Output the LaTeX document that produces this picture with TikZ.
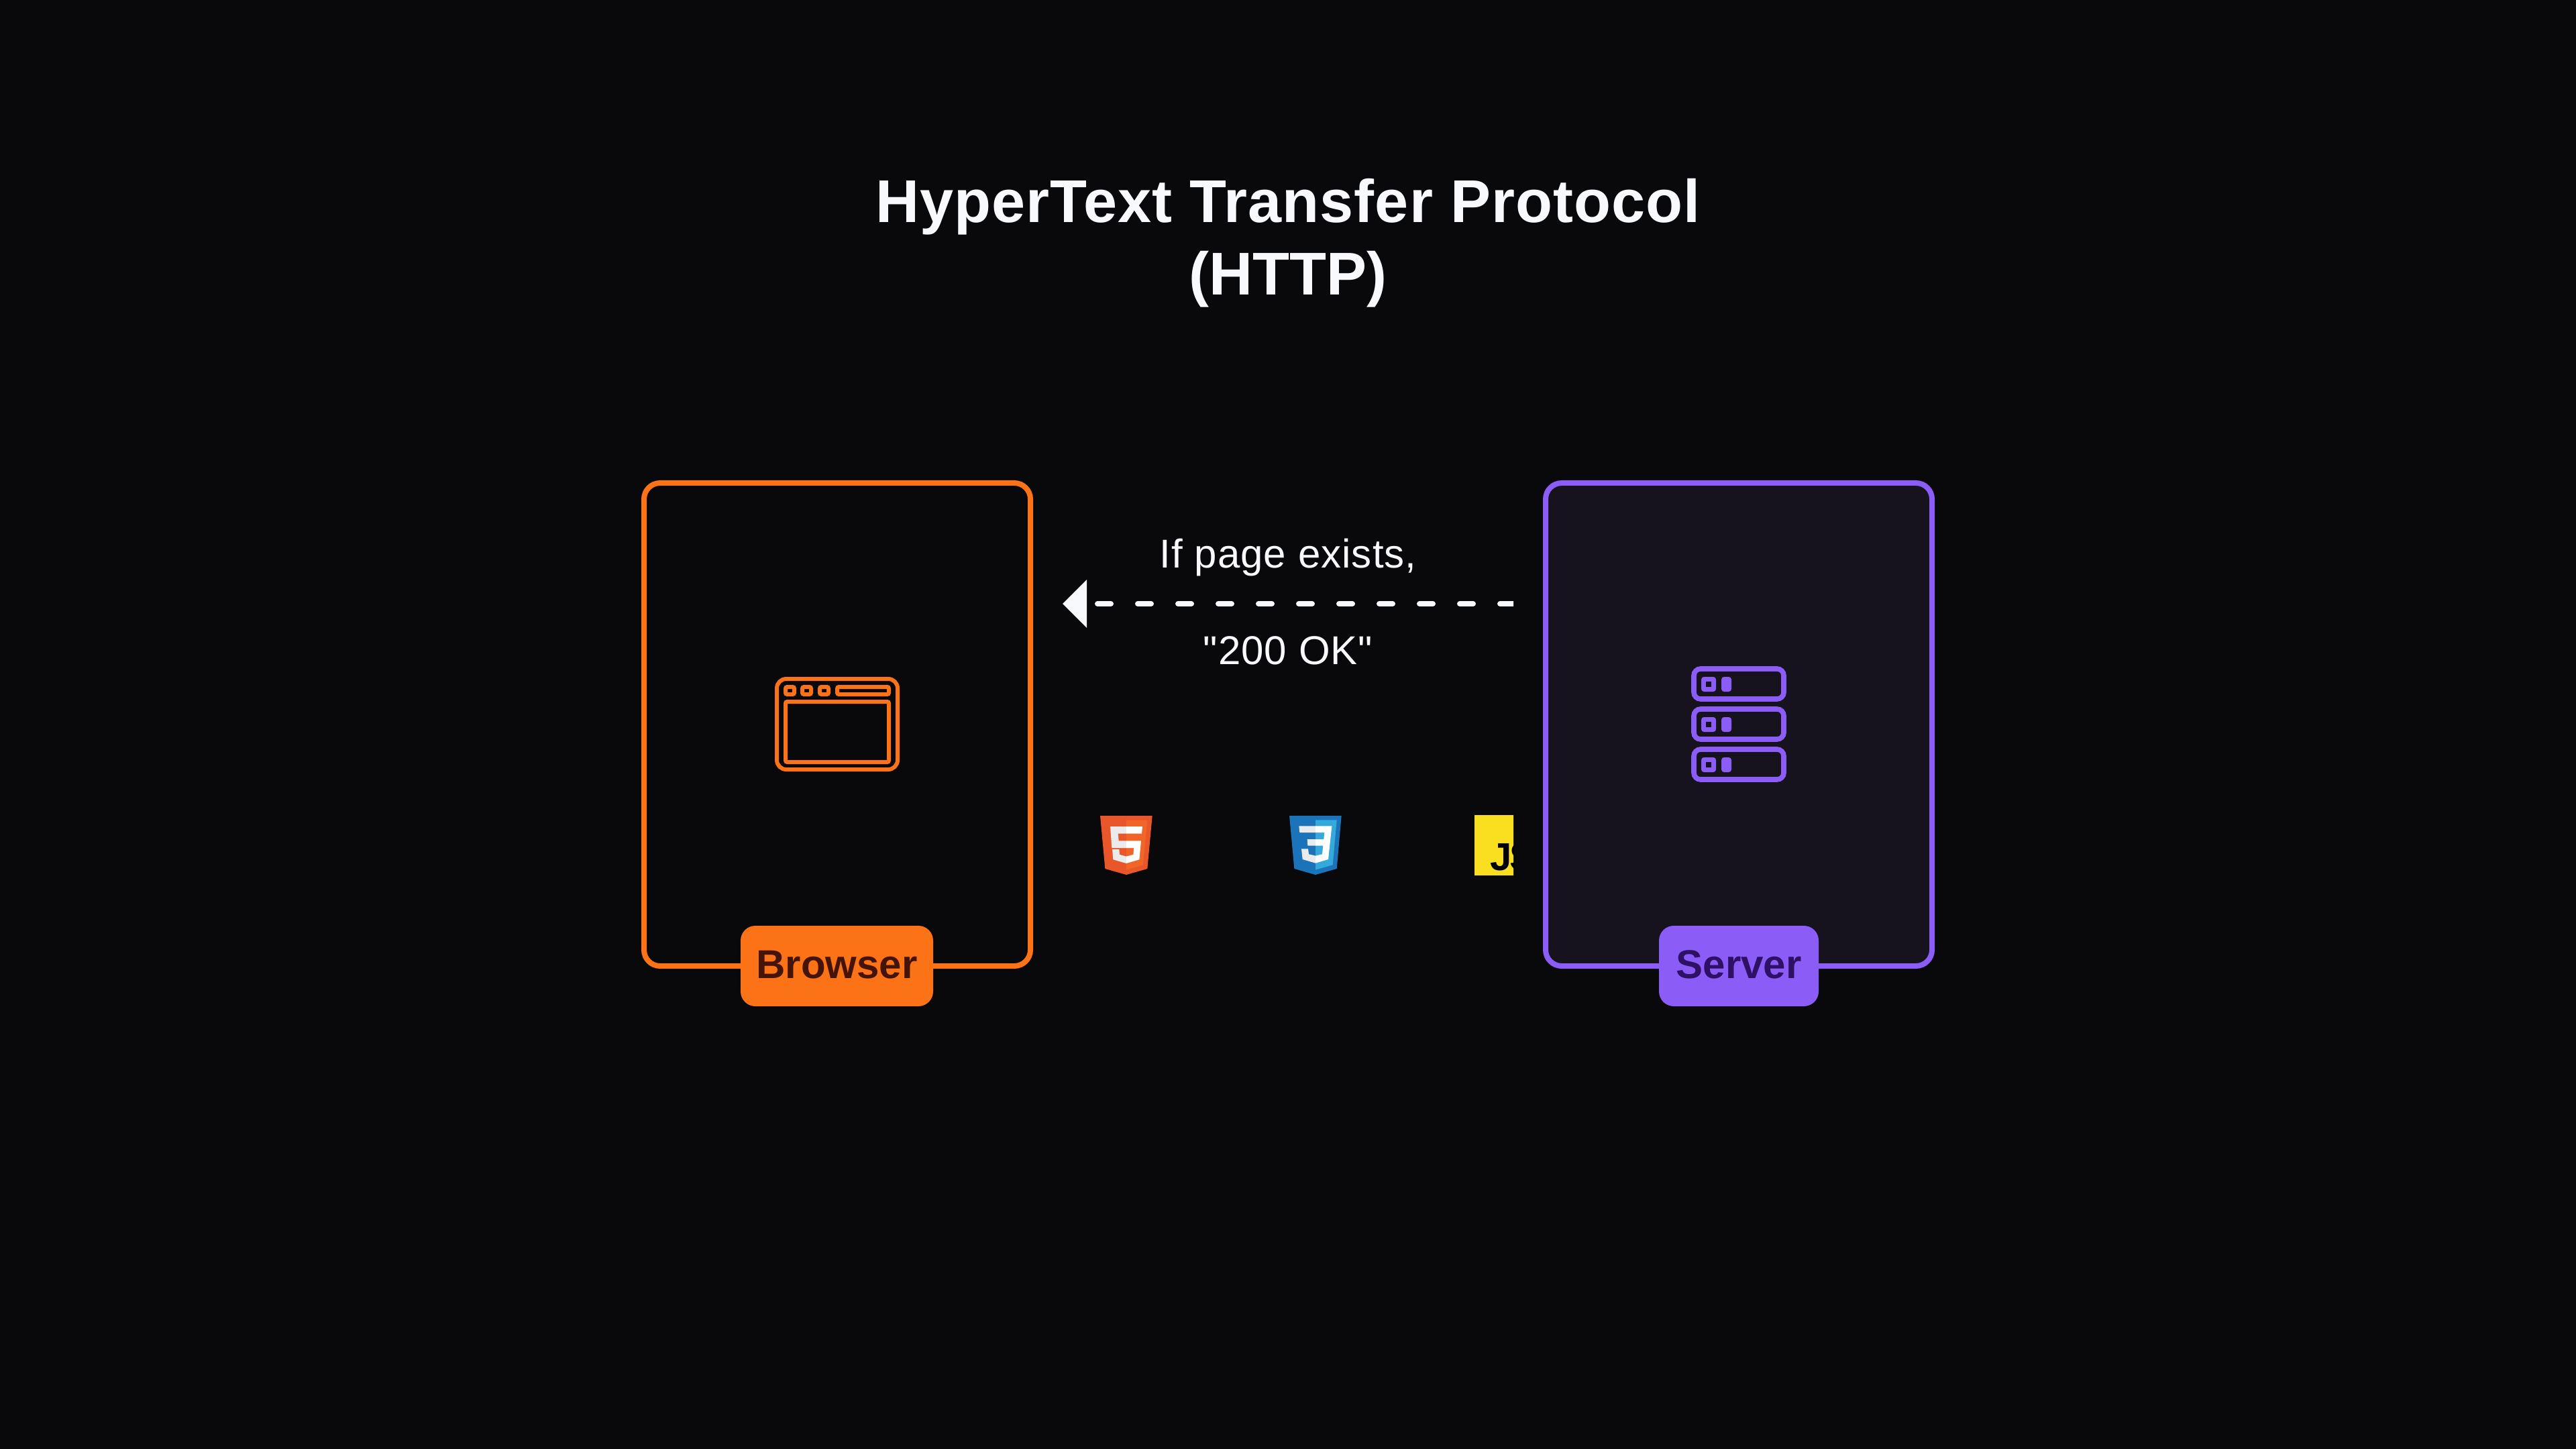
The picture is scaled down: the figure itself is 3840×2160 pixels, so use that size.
\documentclass[tikz,border=0pt]{standalone}
\usepackage{fontspec}
\setmainfont{Liberation Sans}
\newfontfamily\msgfont[LetterSpace=1.8]{Liberation Sans}
\newfontfamily\ttlfont[LetterSpace=1.2]{Liberation Sans Bold}
\newfontfamily\ttlplain{Liberation Sans Bold}
\definecolor{bgc}{HTML}{09090C}
\definecolor{orangec}{HTML}{FB7316}
\definecolor{purplec}{HTML}{8B5CF6}
\definecolor{serverfill}{HTML}{16131F}
\definecolor{inkwhite}{HTML}{F8F9FC}
\definecolor{orangedark}{HTML}{431407}
\definecolor{purpledark}{HTML}{2E1065}
\definecolor{jsyellow}{HTML}{F9DF1F}
\definecolor{htmlouter}{HTML}{E8562A}
\definecolor{htmlinner}{HTML}{F16529}
\definecolor{cssouter}{HTML}{1B73BA}
\definecolor{cssinner}{HTML}{33A9DC}
\definecolor{logogrey}{HTML}{EBEBEB}
\tikzset{
  x=0.25pt,y=-0.25pt,
  frame/.style={draw,rectangle,line width=2pt,rounded corners=6pt,minimum height=180pt,minimum width=144pt,outer sep=0pt},
  tag/.style={rectangle,rounded corners=5.5pt,minimum height=30pt,inner sep=0pt,outer sep=0pt,text height=11pt,text depth=2pt,font=\bfseries\fontsize{15}{15}\selectfont},
  iconb/.style={draw=orangec,line width=1.5pt},
  icons/.style={draw=purplec,line width=1.9pt,rounded corners=2.5pt},
  msg/.style={text=inkwhite,anchor=base,inner sep=0pt,font=\msgfont\fontsize{15}{15}\selectfont},
  ttl/.style={text=inkwhite,anchor=base,inner sep=0pt,font=\ttlfont\fontsize{22.5}{22.5}\selectfont},
  ttlb/.style={text=inkwhite,anchor=base,inner sep=0pt,font=\ttlplain\fontsize{22.5}{22.5}\selectfont},
  zoomgrid/.style={x=0.08333pt,y=-0.08333pt},
}
\begin{document}
\begin{tikzpicture}
\useasboundingbox (0,0) rectangle (3840,2160);
\fill[bgc] (0,0) rectangle (3840,2160);
% title
\node[ttl] (t1) at (1920,332) {HyperText Transfer Protocol};
\node[ttlb] (t2) at (1920,440) {(HTTP)};
% boxes
\node[frame,draw=orangec,fill=bgc] (browserbox) at (1248,1080) {};
\node[frame,draw=purplec,fill=serverfill] (serverbox) at (2592,1080) {};
\node[tag,fill=orangec,text=orangedark,minimum width=71.75pt] (browser) at (1247.5,1440) {Browser};
\node[tag,fill=purplec,text=purpledark,minimum width=59.5pt] (server) at (2592,1440) {Server};
% browser icon
\draw[iconb,rounded corners=3.5pt] (1158,1012) rectangle (1338,1147);
\draw[iconb,rounded corners=0.6pt] (1171,1024) rectangle (1184,1035);
\draw[iconb,rounded corners=0.6pt] (1196,1024) rectangle (1209,1035);
\draw[iconb,rounded corners=0.6pt] (1222,1024) rectangle (1235,1035);
\draw[iconb,rounded corners=0.6pt] (1248,1024) rectangle (1325,1035);
\draw[iconb,rounded corners=0.6pt] (1171,1046) rectangle (1325,1136);
% server icon
\foreach \d in {0,60,120}{
  \draw[icons] (2525,997+\d) rectangle (2659,1042+\d);
  \fill[purplec,rounded corners=1pt] (2536,1009+\d) rectangle (2558,1031+\d);
  \fill[serverfill] (2543,1016+\d) rectangle (2551,1024+\d);
  \fill[purplec,rounded corners=1pt] (2566,1009+\d) rectangle (2581,1031+\d);
}
% message
\node[msg] (m1) at (1920,846) {If page exists,};
\node[msg] (m2) at (1920,990) {\symbol{34}200 OK\symbol{34}};
\coordinate (lane) at (1920,900);
\begin{scope}
\clip (1500,800) rectangle (2256,1000);
\draw[inkwhite,line width=2pt,line cap=round,dash pattern=on 5pt off 10pt,shorten <=25pt]
  (browserbox.east |- lane) -- (serverbox.west |- lane);
\end{scope}
\fill[inkwhite] (1584,900) -- (1620,864) -- (1620,936) -- cycle;
% html5
\begin{scope}[shift={(1600,1190)},zoomgrid]
\fill[htmlouter] (120,78) -- (353,78) -- (331,315) -- (237,342) -- (142,315) -- cycle;
\fill[htmlinner] (237,98) -- (331,98) -- (312,298) -- (237,320) -- cycle;
\begin{scope}
\clip (100,60) rectangle (237,350);
\fill[logogrey] (165,126) -- (172,222) -- (271,222) -- (268,252) -- (237,260) -- (207,252) -- (205,228) -- (174,228) -- (178,274) -- (237,291) -- (295,274) -- (303,190) -- (203,190) -- (200,158) -- (306,158) -- (309,126) -- cycle;
\end{scope}
\begin{scope}
\clip (237,60) rectangle (360,350);
\fill[white] (165,126) -- (172,222) -- (271,222) -- (268,252) -- (237,260) -- (207,252) -- (205,228) -- (174,228) -- (178,274) -- (237,291) -- (295,274) -- (303,190) -- (203,190) -- (200,158) -- (306,158) -- (309,126) -- cycle;
\end{scope}
\end{scope}
% css3
\begin{scope}[shift={(1890,1190)},zoomgrid]
\fill[cssouter] (96,78) -- (329,78) -- (308,315) -- (213,342) -- (118,315) -- cycle;
\fill[cssinner] (213,97) -- (308,97) -- (290,298) -- (213,320) -- cycle;
\begin{scope}
\clip (90,60) rectangle (213,350);
\fill[logogrey] (139,124) -- (142,153) -- (253,153) -- (250,183) -- (176,183) -- (178,212) -- (247,212) -- (243,250) -- (213,257) -- (183,250) -- (180,226) -- (150,226) -- (155,273) -- (213,290) -- (270,273) -- (286,124) -- cycle;
\end{scope}
\begin{scope}
\clip (213,60) rectangle (340,350);
\fill[white] (139,124) -- (142,153) -- (253,153) -- (250,183) -- (176,183) -- (178,212) -- (247,212) -- (243,250) -- (213,257) -- (183,250) -- (180,226) -- (150,226) -- (155,273) -- (213,290) -- (270,273) -- (286,124) -- cycle;
\end{scope}
\end{scope}
% js
\begin{scope}
\clip (2198,1215) rectangle (2256,1305);
\fill[jsyellow] (2198,1215) rectangle (2288,1305);
\node[anchor=base west,inner sep=0pt,text=black,font=\bfseries\fontsize{14.5}{14.5}\selectfont] (js) at (2221,1297) {J\kern-0.8pt S};
\end{scope}
\end{tikzpicture}
\end{document}
